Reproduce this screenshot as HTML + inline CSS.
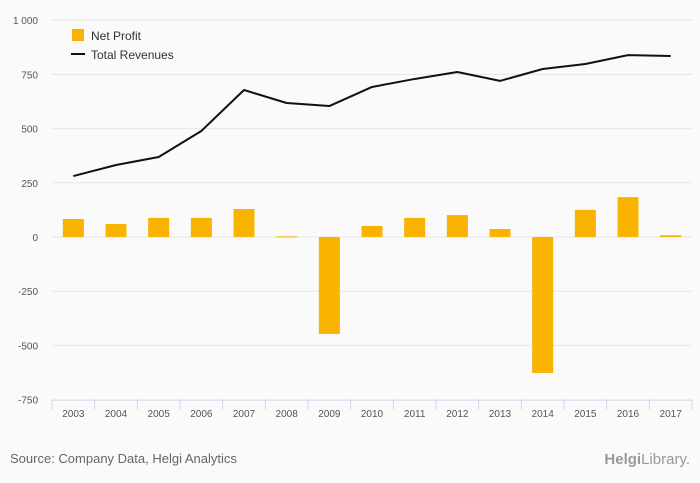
<!DOCTYPE html>
<html><head><meta charset="utf-8"><style>
body{margin:0;background:#fafafa;font-family:"Liberation Sans",sans-serif;}
svg{display:block}
</style></head><body>
<svg id="c" width="700" height="483" font-family="Liberation Sans, sans-serif">
<rect width="700" height="483" fill="#fafafa"/>
<g id="grid"></g><g id="bars"></g><g id="line"></g><g id="axes"></g>
<g>
<rect x="72" y="29" width="12" height="12" fill="#f9b200"/>
<text x="91" y="40" font-size="12" fill="#333">Net Profit</text>
<line x1="71" y1="54" x2="85" y2="54" stroke="#111" stroke-width="2"/>
<text x="91" y="59" font-size="12" fill="#333">Total Revenues</text>
</g>
<text x="10" y="463" font-size="13" fill="#666">Source: Company Data, Helgi Analytics</text>
<text x="690" y="464" font-size="15" fill="#999" text-anchor="end"><tspan font-weight="bold">Helgi</tspan>Library.</text>
</svg>
<script>
const categories=["2003","2004","2005","2006","2007","2008","2009","2010","2011","2012","2013","2014","2015","2016","2017"];
const netProfit=[83,60,88,88,129,3,-447,51,88,101,37,-627,125,184,8];
const totalRevenues=[281,332,369,489,678,618,604,692,729,761,720,775,798,839,835];
const yTicks=[1000,750,500,250,0,-250,-500,-750];
const yTickLabels=["1 000","750","500","250","0","-250","-500","-750"];
const NS="http://www.w3.org/2000/svg";
const x0=52,x1=692,bw=(x1-x0)/categories.length;
const y=v=>237-v*(54.2/250);
const xc=i=>x0+bw*(i+0.5);
function mk(t,a,p){const e=document.createElementNS(NS,t);for(const k in a)e.setAttribute(k,a[k]);p.appendChild(e);return e;}
const grid=document.getElementById('grid'),axes=document.getElementById('axes');
yTicks.forEach((v,i)=>{
 if(v!==-750){const l=mk('line',{x1:x0,x2:x1,y1:y(v),y2:y(v),stroke:'#e6e6e6','stroke-width':1},grid);
 
 }
 const t=mk('text',{x:38,y:y(v)+4,'font-size':10,fill:'#555','text-anchor':'end'},axes);
 t.textContent=yTickLabels[i];
 
 
});
const ax=mk('line',{x1:x0,x2:x1,y1:y(-750)+0.5,y2:y(-750)+0.5,stroke:'#ccd6eb'},axes);


for(let i=0;i<=categories.length;i++){const tk=mk('line',{x1:x0+bw*i,x2:x0+bw*i,y1:y(-750),y2:y(-750)+10,stroke:'#ccd6eb'},axes);
 
 }
const bars=document.getElementById('bars');
categories.forEach((c,i)=>{
 const t=mk('text',{x:xc(i),y:417,'font-size':10,fill:'#555','text-anchor':'middle'},axes);
 t.textContent=c;
 
 
 const v=netProfit[i];const top=Math.min(y(v),y(0)),h=Math.max(Math.abs(y(v)-y(0)),1);
 const r=mk('rect',{x:xc(i)-10.5,y:top,width:21,height:h,fill:'#f9b200'},bars);
 
 
});
const p=mk('polyline',{points:totalRevenues.map((v,i)=>xc(i)+','+y(v)).join(' '),fill:'none',stroke:'#111','stroke-width':2,'stroke-linejoin':'round'},document.getElementById('line'));


</script>
</body></html>
